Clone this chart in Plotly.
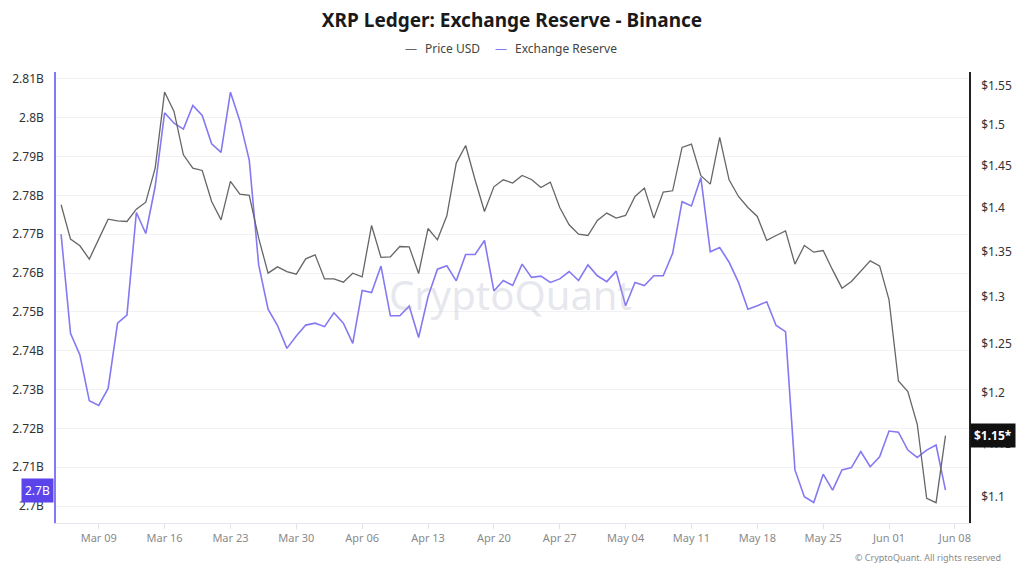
import math
import pandas as pd
import plotly.graph_objects as go

# ---------------- data ----------------
start_date = "2025-03-05"

reserve_b = [
    2.7700, 2.7445, 2.7389, 2.7271, 2.7259, 2.7303, 2.7471, 2.7492, 2.7756, 2.7702,
    2.7823, 2.8013, 2.7986, 2.7971, 2.8032, 2.8006, 2.7933, 2.7911, 2.8066, 2.7992,
    2.7891, 2.7621, 2.7507, 2.7465, 2.7406, 2.7438, 2.7466, 2.7471, 2.7462, 2.7498,
    2.7471, 2.7419, 2.7555, 2.7550, 2.7618, 2.7490, 2.7490, 2.7515, 2.7434, 2.7539,
    2.7610, 2.7619, 2.7580, 2.7648, 2.7648, 2.7684, 2.7554, 2.7581, 2.7568, 2.7623,
    2.7589, 2.7592, 2.7576, 2.7585, 2.7604, 2.7581, 2.7621, 2.7593, 2.7578, 2.7605,
    2.7516, 2.7576, 2.7568, 2.7593, 2.7593, 2.7651, 2.7784, 2.7773, 2.7846, 2.7655,
    2.7666, 2.7628, 2.7576, 2.7507, 2.7516, 2.7526, 2.7465, 2.7449, 2.7093, 2.7024,
    2.7009, 2.7082, 2.7041, 2.7093, 2.7099, 2.7140, 2.7101, 2.7127, 2.7193, 2.7190,
    2.7144, 2.7125, 2.7144, 2.7157, 2.7041,
]

price_usd = [
    1.4036, 1.3640, 1.3564, 1.3414, 1.3640, 1.3869, 1.3850, 1.3842, 1.3985, 1.4067,
    1.4472, 1.5420, 1.5173, 1.4634, 1.4472, 1.4444, 1.4075, 1.3861, 1.4312, 1.4161,
    1.4146, 1.3651, 1.3258, 1.3328, 1.3276, 1.3247, 1.3417, 1.3462, 1.3195, 1.3194,
    1.3159, 1.3258, 1.3217, 1.3796, 1.3433, 1.3440, 1.3556, 1.3553, 1.3254, 1.3761,
    1.3632, 1.3908, 1.4533, 1.4748, 1.4332, 1.3958, 1.4248, 1.4332, 1.4292, 1.4384,
    1.4336, 1.4240, 1.4304, 1.4004, 1.3804, 1.3696, 1.3681, 1.3854, 1.3939, 1.3881,
    1.3912, 1.4134, 1.4233, 1.3881, 1.4185, 1.4201, 1.4724, 1.4765, 1.4380, 1.4280,
    1.4848, 1.4332, 1.4134, 1.4004, 1.3900, 1.3625, 1.3681, 1.3734, 1.3358, 1.3568,
    1.3492, 1.3511, 1.3294, 1.3093, 1.3166, 1.3283, 1.3395, 1.3339, 1.2966, 1.2118,
    1.2011, 1.1688, 1.0988, 1.0948, 1.1578,
]

left_tick_vals = [2.70, 2.71, 2.72, 2.73, 2.74, 2.75, 2.76, 2.77, 2.78, 2.79, 2.80, 2.81]
left_tick_text = ["2.7B", "2.71B", "2.72B", "2.73B", "2.74B", "2.75B", "2.76B",
                  "2.77B", "2.78B", "2.79B", "2.8B", "2.81B"]
right_tick_vals = [1.10, 1.15, 1.20, 1.25, 1.30, 1.35, 1.40, 1.45, 1.50, 1.55]
right_tick_text = ["$1.1", "$1.15", "$1.2", "$1.25", "$1.3", "$1.35", "$1.4",
                   "$1.45", "$1.5", "$1.55"]

title_text = "XRP Ledger: Exchange Reserve - Binance"
series_names = ["Price USD", "Exchange Reserve"]
last_reserve_label = "2.7B"
last_price_label = "$1.15*"

dates = pd.date_range(start_date, periods=len(reserve_b), freq="D")

# ---------------- style ----------------
FONT = "Noto Sans, Open Sans, DejaVu Sans, sans-serif"
PURPLE = "#8479f2"
GRAY = "#666666"

fig = go.Figure()
fig.add_trace(go.Scatter(x=dates, y=price_usd, name=series_names[0], yaxis="y2",
                         mode="lines", line=dict(color=GRAY, width=1.3)))
fig.add_trace(go.Scatter(x=dates, y=reserve_b, name=series_names[1], yaxis="y",
                         mode="lines", line=dict(color=PURPLE, width=1.6)))

fig.update_layout(
    width=1024, height=565,
    margin=dict(l=52, r=52, t=72, b=42),
    paper_bgcolor="white", plot_bgcolor="white",
    showlegend=False,
    font=dict(family=FONT, size=12, color="#333333"),
    title=dict(text="<b>" + title_text + "</b>", x=0.5, xanchor="center",
               y=1 - 20 / 565, yanchor="middle",
               font=dict(family=FONT, size=19, color="#1a1a1a")),
    xaxis=dict(
        type="date",
        range=["2025-03-04 11:00", "2025-06-09 12:00"],
        tick0="2025-03-09", dtick=7 * 24 * 3600 * 1000,
        tickformat="%b %d",
        ticks="outside", ticklen=5, tickcolor="#e3e3e3",
        showline=True, linecolor="#e6e6ee", linewidth=1,
        showgrid=False, zeroline=False,
        tickfont=dict(size=11, color="#8a8a8a"),
    ),
    yaxis=dict(
        range=[2.69562, 2.8118],
        tickvals=left_tick_vals, ticktext=left_tick_text,
        showline=True, linecolor=PURPLE, linewidth=1.5,
        showgrid=True, gridcolor="#f2f2f4", gridwidth=1,
        zeroline=False, ticks="", ticklabelstandoff=8,
        tickfont=dict(size=12, color="#333333"),
    ),
    yaxis2=dict(
        type="log",
        range=[math.log10(1.0764), math.log10(1.568)],
        tickvals=right_tick_vals, ticktext=right_tick_text,
        overlaying="y", side="right",
        showline=True, linecolor="#222222", linewidth=1.5,
        showgrid=False, zeroline=False, ticks="", ticklabelstandoff=8,
        tickfont=dict(size=12, color="#333333"),
    ),
)

def px_x(px):
    return (px - 52) / 920.0

def px_y(py):
    return (523 - py) / 451.0

legend_y = px_y(48)
annotations = [
    # legend (dash + label per series)
    dict(xref="paper", yref="paper", x=px_x(418), y=legend_y,
         xanchor="right", yanchor="middle", showarrow=False,
         text="—", font=dict(size=12, color=GRAY)),
    dict(xref="paper", yref="paper", x=px_x(422), y=legend_y,
         xanchor="left", yanchor="middle", showarrow=False,
         text=series_names[0], font=dict(size=12, color="#444444")),
    dict(xref="paper", yref="paper", x=px_x(508), y=legend_y,
         xanchor="right", yanchor="middle", showarrow=False,
         text="—", font=dict(size=12, color=PURPLE)),
    dict(xref="paper", yref="paper", x=px_x(512), y=legend_y,
         xanchor="left", yanchor="middle", showarrow=False,
         text=series_names[1], font=dict(size=12, color="#444444")),
    # watermark
    dict(xref="paper", yref="paper", x=0.498, y=0.506,
         xanchor="center", yanchor="middle", showarrow=False,
         text="CryptoQuant",
         font=dict(size=40, color="rgba(170,170,195,0.30)", family=FONT)),
    # footer
    dict(xref="paper", yref="paper", x=px_x(1006), y=px_y(557),
         xanchor="right", yanchor="middle", showarrow=False,
         text="© CryptoQuant. All rights reserved",
         font=dict(size=9, color="#8a8a8a")),
    # last-value labels
    dict(xref="paper", yref="y", x=0, y=reserve_b[-1], xshift=-2,
         xanchor="right", yanchor="middle", showarrow=False,
         text=last_reserve_label, bgcolor="#5a44ea", borderpad=3,
         font=dict(size=12, color="white")),
    dict(xref="paper", yref="y2", x=1, y=math.log10(price_usd[-1]), xshift=1,
         xanchor="left", yanchor="middle", showarrow=False,
         text="<b>" + last_price_label + "</b>", bgcolor="#111111", borderpad=3,
         font=dict(size=12, color="white")),
]
fig.update_layout(annotations=annotations)

fig.write_html("out.html")
